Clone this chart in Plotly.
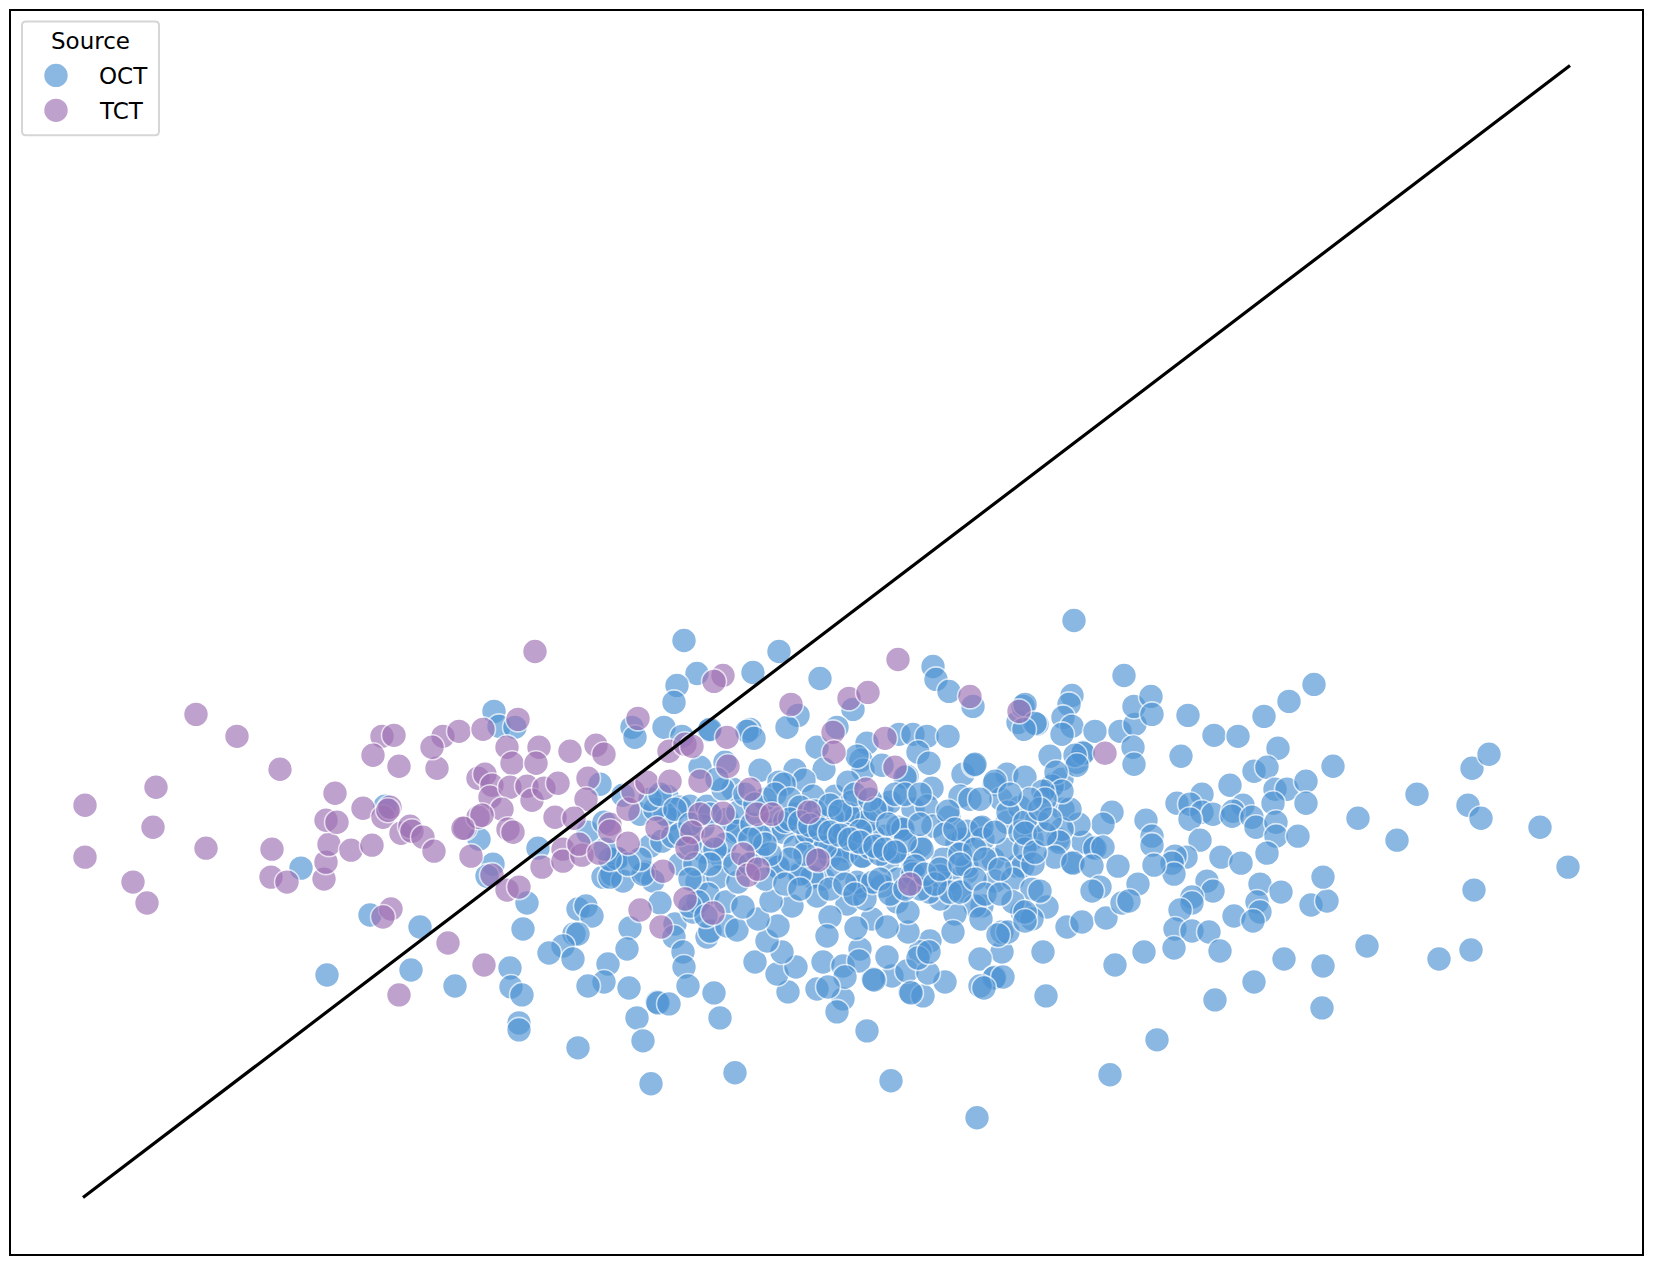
import plotly.graph_objects as go

# Values (axis units equal reference pixels; the original has no tick labels)
series_names = ["OCT", "TCT"]
legend_title = "Source"
line_x = [83, 1570]
line_y = [1199, 65]

oct_points = [
 (301,869),(370,916),(420,928),(327,976),(411,971),(455,987),(385,807),
 (684,641),(697,674),(677,686),(674,703),(494,712),(499,727),(515,728),(632,728),(635,738),(664,728),(682,737),(709,731),
 (700,768),(725,763),(600,785),(623,796),(640,815),(667,797),(479,840),(538,849),(588,833),(604,823),(618,860),(493,865),(487,877),
 (603,878),(612,875),(623,882),(645,873),(653,882),(650,847),(662,842),(680,865),(705,853),(722,859),(697,883),(718,878),
 (680,808),(690,807),(707,807),(670,820),(733,790),(723,790),(717,780),(735,833),(703,827),(727,820),(738,813),(673,837),
 (527,904),(523,930),(578,910),(586,907),(592,917),(574,935),(578,935),(563,947),(549,954),(573,960),(608,965),(604,983),(588,987),
 (630,929),(627,950),(629,989),(660,904),(675,925),(674,938),(683,953),(684,968),(688,987),(657,1003),(658,1004),(669,1005),(714,994),(720,1019),
 (637,1019),(643,1042),(578,1049),(651,1085),(735,1074),(510,969),(511,988),(522,996),(519,1024),(519,1031),(610,878),
 (708,895),(693,913),(707,938),(710,932),(726,903),(727,927),(737,931),(698,903),
 (779,652),(753,673),(820,679),(933,667),(936,680),(949,692),(973,707),(853,710),(798,716),(787,728),(750,730),(747,732),(754,739),(837,728),(817,748),(824,770),
 (867,744),(899,735),(913,735),(927,737),(948,737),(861,761),(863,771),(882,766),(907,777),(918,753),(929,764),(932,789),(760,771),(795,771),(804,781),(779,783),(784,785),
 (835,797),(848,783),(852,803),(813,797),(882,808),(890,803),(913,810),(927,807),(949,818),(933,827),(957,844),(902,831),(885,837),(866,825),(848,827),(873,837),
 (963,775),(974,766),(960,797),(970,800),(1007,775),(994,785),(1001,800),(980,829),(1007,823),(1020,808),(993,860),(1017,867),(1007,850),(967,873),(950,880),(943,860),
 (912,860),(912,872),(888,862),(863,857),(862,887),(841,850),(847,852),(830,857),(817,842),(807,840),(775,830),(783,833),(738,832),(752,825),(795,848),(758,853),(779,868),(798,874),
 (823,880),(812,878),(838,870),(1018,723),(1023,707),(963,840),(967,832),(1023,867),(983,840),(1032,840),(995,882),(1013,880),(940,877),(920,847),(898,880),
 (710,730),(857,757),(857,817),(905,778),(975,765),(995,782),(1053,785),(1062,780),(1050,757),(1037,725),
 (1083,753),(1077,763),(1063,810),(1032,890),(1047,908),(1022,913),(982,907),(1058,840),(1072,863),
 (1093,848),(1083,843),(1067,928),(1082,923),(1043,953),(1002,953),(1002,933),(980,960),(995,978),(1046,997),(1008,933),(961,892),(975,907),(955,915),(930,942),(920,953),
 (945,983),(910,993),(923,997),(892,977),(873,980),(887,958),(860,950),(908,933),(897,903),(913,875),(857,883),(872,920),(887,928),(847,905),(830,918),
 (827,937),(823,963),(843,967),(843,1000),(817,990),(837,1013),(788,993),(777,975),(796,968),(782,953),(755,963),(767,942),(778,927),(758,920),(792,907),(771,902),(743,908),(817,897),
 (800,875),(778,868),(760,837),(808,833),(842,860),(862,857),(898,828),(867,822),(848,815),(832,818),(903,830),(948,812),(982,828),(980,800),(1008,813),(995,833),(1020,833),
 (1025,850),(922,850),(915,867),(940,900),(967,867),
 (856,929),(859,962),(874,981),(907,972),(911,994),(928,974),(918,959),(929,953),(908,913),(929,893),(953,933),(981,920),(1013,903),(998,936),
 (994,979),(1003,978),(980,987),(984,989),(950,893),(960,893),(882,887),(865,900),(873,883),(920,890),(845,978),(828,988),(867,1032),(891,1082),(977,1119),
 (1074,621),(1124,676),(1314,685),(1289,702),(1264,717),(1188,716),(1214,736),(1238,737),(1278,749),(1181,757),(1072,696),(1069,705),(1063,718),(1072,727),(1062,735),(1095,732),(1120,732),
 (1135,725),(1134,707),(1151,697),(1152,715),(1133,748),(1134,765),(1083,754),(1075,756),(1077,766),(1025,705),(1035,724),(1024,730),(1254,772),(1267,768),(1230,786),(1275,790),(1287,790),
 (1306,782),(1306,804),(1273,804),(1202,795),(1177,804),(1190,805),(1202,813),(1213,815),(1190,820),(1243,806),(1233,812),(1232,817),(1252,818),(1256,828),(1276,823),(1276,837),(1298,837),
 (1267,854),(1200,841),(1221,858),(1241,864),(1186,858),(1175,857),(1172,864),(1174,875),(1146,821),(1152,837),(1152,846),(1154,866),(1112,813),(1103,825),(1079,825),(1062,830),(1059,843),
 (1095,849),(1103,848),(1118,867),(1055,858),(1073,864),(1092,867),(1037,821),(1025,823),(1025,834),(1070,810),(1025,778),(1052,787),(1056,773),(1062,792),(1043,792),(1045,800),
 (1138,885),(1100,888),(1092,892),(1207,882),(1213,892),(1260,885),(1281,893),(1033,865),(1040,892),(1032,920),(1025,913),(1025,922),
 (1106,919),(1122,904),(1129,902),(1144,953),(1115,966),(1157,1041),(1110,1076),(1192,898),(1192,904),(1180,911),(1175,930),(1192,932),(1209,933),
 (1174,949),(1220,952),(1234,917),(1257,903),(1260,913),(1253,922),(1284,960),(1254,983),(1215,1001),(1311,906),(1327,902),(1323,967),(1322,1009),(1333,767),(1358,819),(1397,841),
 (1417,795),(1472,769),(1489,755),(1468,806),(1481,819),(1540,828),(1568,868),(1474,891),(1323,878),(1367,947),(1439,960),(1471,951),
 (617,859),(643,875),(690,907),(706,917),(738,883),
 # dense core, estimated from the white arcs
 (770,812),(785,822),(795,815),(822,822),(845,835),(856,842),(870,848),(880,855),(895,852),(905,842),(920,825),(945,835),(955,830),
 (765,800),(745,795),(755,805),(775,795),(790,800),(800,808),(815,812),(830,806),(840,812),(855,795),(870,800),(895,795),(905,795),(920,795),
 (875,810),(888,825),(860,832),(835,835),(825,848),(815,860),(805,855),(790,860),(770,855),(765,845),(750,840),(725,845),(715,850),(710,865),
 (735,865),(750,865),(765,880),(785,885),(800,890),(830,890),(845,885),(855,895),(880,880),(890,895),(905,890),(925,875),(935,885),(940,870),
 (960,855),(975,850),(985,860),(1000,870),(960,865),(975,880),(985,895),(1000,895),(1035,853),(1045,835),(1050,820),(1040,810),(1030,800),(1010,795),
 (690,845),(680,835),(665,815),(655,810),(650,800),(660,795),(675,810),(690,825),(710,815),(640,860),(628,865),(610,860),(605,850),(695,865),(690,880),
 (790,820),(800,823),(810,826),(820,830),(830,833),(840,836),(850,840),(860,843),(875,847),(885,850),(895,853),
]

tct_points = [
 (196,715),(237,737),(280,770),(156,788),(85,806),(153,828),(85,858),(206,849),(133,883),(147,904),(272,850),(271,878),(287,883),(324,880),(326,863),(329,845),(351,851),(372,846),
 (335,794),(326,821),(337,823),(363,809),(383,818),(390,808),(388,811),(401,834),(410,827),(412,832),(423,838),(434,852),(382,737),(394,736),(373,756),(399,767),(437,769),
 (443,737),(432,748),(459,732),(465,829),(391,910),(383,918),(448,944),(399,996),
 (535,652),(483,730),(518,720),(507,748),(539,748),(512,764),(536,764),(570,752),(596,746),(604,755),(638,719),(723,676),(714,682),(478,779),(485,775),(492,786),(490,798),(510,788),
 (527,787),(532,801),(544,789),(558,784),(588,779),(586,800),(502,810),(478,818),(482,816),(463,829),(508,830),(513,833),(555,818),(574,819),(471,857),(492,876),(542,868),(563,850),
 (563,862),(582,856),(579,845),(599,854),(610,825),(610,832),(628,844),(628,810),(633,792),(647,783),(670,782),(669,752),(685,745),(692,747),(727,738),(700,782),(728,767),(657,829),
 (700,815),(723,814),(692,833),(713,837),(687,849),(743,855),(663,872),(507,891),(519,888),(484,966),(640,911),(661,928),(685,900),(713,914),
 (898,660),(791,705),(849,699),(868,693),(970,697),(1019,712),(833,733),(834,753),(885,739),(895,768),(866,790),(750,790),(809,813),(757,815),(772,815),(818,861),(748,876),(758,870),(910,885),
 (1105,754),
]

oct_x = [p[0] for p in oct_points]
oct_y = [p[1] for p in oct_points]
tct_x = [p[0] for p in tct_points]
tct_y = [p[1] for p in tct_points]

OCT_COLOR = "#4F94D4"
TCT_COLOR = "#9F72B5"
FONT = "DejaVu Sans"

def dots(x, y, color, name, size=25):
    return go.Scatter(x=x, y=y, mode="markers", name=name, showlegend=False, hoverinfo="x+y+name",
                      marker=dict(size=size, color=color, opacity=0.66, line=dict(color="white", width=1.6)))

fig = go.Figure()
fig.add_trace(dots(oct_x, oct_y, OCT_COLOR, series_names[0]))
fig.add_trace(dots(tct_x, tct_y, TCT_COLOR, series_names[1]))
fig.add_trace(go.Scatter(x=line_x, y=line_y, mode="lines", showlegend=False, hoverinfo="skip",
                         line=dict(color="black", width=3.2)))
# legend keys, larger than Plotly's own legend allows
fig.add_trace(dots([56], [75], OCT_COLOR, series_names[0]))
fig.add_trace(dots([56], [110], TCT_COLOR, series_names[1]))

axis = dict(showgrid=False, zeroline=False, showticklabels=False, ticks="", showline=True, mirror=True,
            linecolor="black", linewidth=2)
fig.update_layout(
    width=1653, height=1263, autosize=False,
    margin=dict(l=11, r=11, t=9, b=9),
    paper_bgcolor="white", plot_bgcolor="white", showlegend=False,
    xaxis=dict(axis, range=[11, 1642]),
    yaxis=dict(axis, range=[1255.5, 10.5]),
    shapes=[dict(type="path", xref="x", yref="y", layer="below",
                 path="M 26 21 L 155 21 Q 159 21 159 25 L 159 131 Q 159 135 155 135 L 26 135 Q 22 135 22 131 L 22 25 Q 22 21 26 21 Z",
                 line=dict(color="#D6D6D6", width=2), fillcolor="white")],
    annotations=[
        dict(x=90, y=41, xref="x", yref="y", text=legend_title, showarrow=False, xanchor="center", yanchor="middle",
             font=dict(family=FONT, size=23, color="black")),
        dict(x=123.5, y=76, xref="x", yref="y", text=series_names[0], showarrow=False, xanchor="center", yanchor="middle",
             font=dict(family=FONT, size=23, color="black")),
        dict(x=121, y=111, xref="x", yref="y", text=series_names[1], showarrow=False, xanchor="center", yanchor="middle",
             font=dict(family=FONT, size=23, color="black")),
    ],
)
fig.write_html("out.html", config={"displayModeBar": False},
               post_script="document.body.style.margin='0';document.body.style.overflow='hidden';")
